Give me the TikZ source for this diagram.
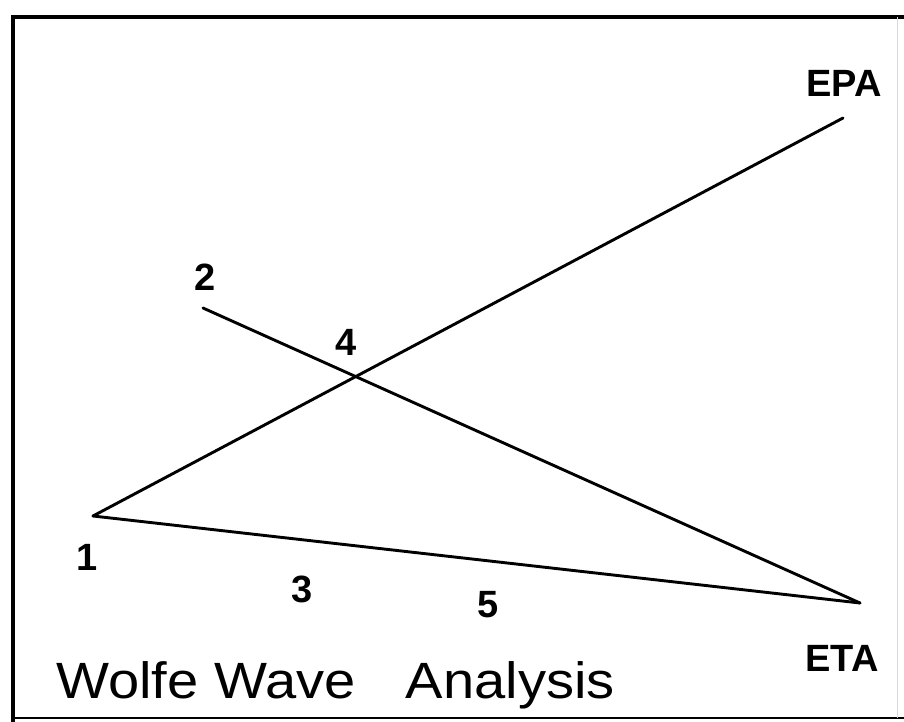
\documentclass[tikz,border=0pt]{standalone}
\usepackage{fontspec}
\setmainfont{Liberation Sans}
\begin{document}
\begin{tikzpicture}[x=1pt,y=-1pt,
  wave/.style={line width=2.9pt,line cap=round},
  lbl/.style={font=\fontsize{38}{38}\selectfont\bfseries,inner sep=0pt},
  ttl/.style={font=\fontsize{51}{51}\selectfont,inner sep=0pt,anchor=base west,xscale=1.1}]
\useasboundingbox (0,0) rectangle (904,722);
\fill[white] (0,0) rectangle (904,722);
% frame
\draw[line width=4pt] (13,722) -- (13,17) -- (904,17);
\draw[line width=1.5pt] (13,718) -- (904,718);
\draw[line width=1pt,black!15] (897,17) -- (897,718);
% points
\coordinate (p1) at (93,516);
\coordinate (p2) at (203,308);
\coordinate (epa) at (843,118);
\coordinate (eta) at (860,603);
% waves
\draw[wave] (p1) -- (epa);
\draw[wave] (p2) -- (eta);
\draw[wave] (p1) -- (eta);
% labels
\node[lbl] (l1) at (87,557) {1};
\node[lbl] (l2) at (205,277) {2};
\node[lbl] (l3) at (302,589) {3};
\node[lbl] (l4) at (346,342) {4};
\node[lbl] (l5) at (488,605) {5};
\node[lbl] (lepa) at (844,83) {EPA};
\node[lbl] (leta) at (842,658) {ETA};
\node[ttl] (title) at (56,698) {Wolfe Wave\hspace{0.9em}Analysis};
\end{tikzpicture}
\end{document}
